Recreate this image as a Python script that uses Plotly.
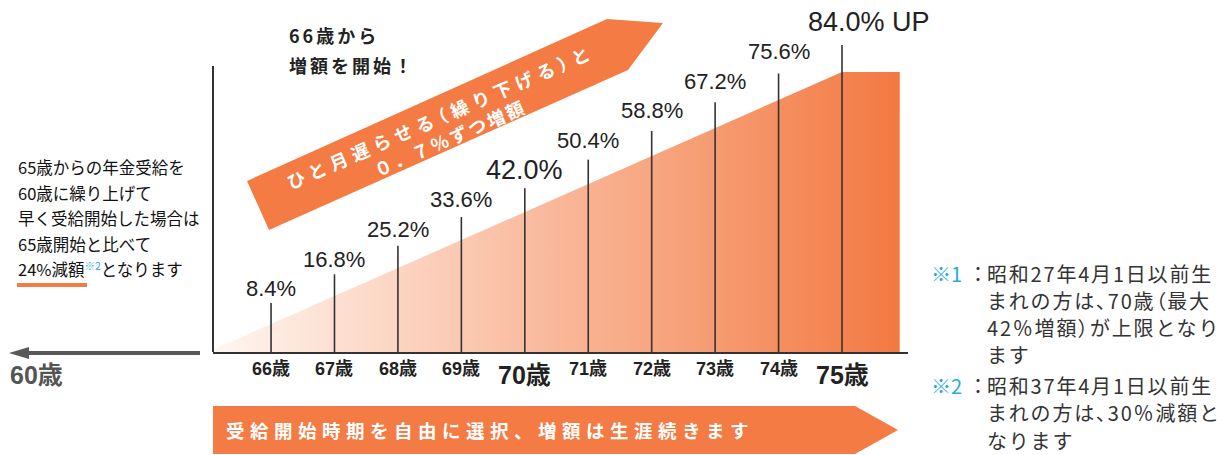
import plotly.graph_objects as go

# ---------------- data ----------------
ages = [65, 66, 67, 68, 69, 70, 71, 72, 73, 74, 75]
increase_pct = [0.0, 8.4, 16.8, 25.2, 33.6, 42.0, 50.4, 58.8, 67.2, 75.6, 84.0]
pct_labels = ["", "8.4%", "16.8%", "25.2%", "33.6%", "42.0%", "50.4%", "58.8%", "67.2%", "75.6%", "84.0% UP"]
age_labels = ["65歳", "66歳", "67歳", "68歳", "69歳", "70歳", "71歳", "72歳", "73歳", "74歳", "75歳"]
major_ages = [65, 70, 75]
plateau_end_age = 75.91

left_text = ["65歳からの年金受給を", "60歳に繰り上げて", "早く受給開始した場合は", "65歳開始と比べて"]
note1 = ["昭和27年4月1日以前生", "まれの方は、70歳（最大", "42％増額）が上限となり", "ます"]
note2 = ["昭和37年4月1日以前生", "まれの方は、30％減額と", "なります"]

# ---------------- styles ----------------
ORANGE = "#F47B43"
BLUE = "#29A9E0"
DARK = "#222222"
CJK = "Noto Sans CJK JP"
NUM = "Liberation Sans, Noto Sans CJK JP"

W, H = 1230, 455
OX, OY = 8, 8  # page body margin
L, R, T, B = 213, 908, 10, 352  # plot area in (screen) pixels
PW, PH = R - L, B - T


def P(x, y):
    return (x - L) / PW, (B - y) / PH


def path(points):
    s = ""
    for i, (x, y) in enumerate(points):
        px, py = P(x, y)
        s += ("M" if i == 0 else "L") + f"{px:.5f},{py:.5f} "
    return s + "Z"


annotations = []


def ann(text, x, y, size, color=DARK, family=CJK, xanchor="left", yanchor="middle", angle=0):
    px, py = P(x, y)
    annotations.append(dict(text=text, x=px, y=py, xref="paper", yref="paper", showarrow=False,
                            xanchor=xanchor, yanchor=yanchor, textangle=angle,
                            font=dict(size=size, color=color, family=family)))


def sp(text, px):
    return f'<span style="letter-spacing:{px}px">{text}</span>'


def note_line(text, px):
    # proportional punctuation, letter-spaced body text
    out, buf = "", ""
    for ch in text:
        if ch in "、（）":
            if buf:
                out += sp(buf, px)
                buf = ""
            out += f'<span style="letter-spacing:{px}px;font-feature-settings:\'palt\'">{ch}</span>'
        else:
            buf += ch
    if buf:
        out += sp(buf, px)
    return out


fig = go.Figure()

# gradient area (0.7% per month increase, capped at 84%)
fig.add_trace(go.Scatter(
    x=ages + [plateau_end_age, plateau_end_age],
    y=increase_pct + [increase_pct[-1], 0],
    mode="lines", fill="toself", line=dict(width=0),
    fillgradient=dict(type="horizontal", colorscale=[[0, "#FFF7F3"], [1, "#F37941"]]),
    hoverinfo="skip", showlegend=False))

# marker lines
lx, ly = [], []
for a, v in zip(ages[1:], increase_pct[1:]):
    lx += [a, a, None]
    ly += [0, v * 1.024 + 6.1, None]
fig.add_trace(go.Scatter(x=lx, y=ly, mode="lines", line=dict(color="#333333", width=1.6),
                         hoverinfo="skip", showlegend=False))

# percent labels
for a, v, t in zip(ages[1:], increase_pct[1:], pct_labels[1:]):
    big = a in major_ages
    d = dict(text=t, x=a, y=v * 1.06 + 10, xref="x", yref="y", showarrow=False,
             xanchor="center", yanchor="middle",
             font=dict(size=27 if big else 22, color=DARK, family="Liberation Sans"))
    if t.endswith("UP"):
        d.update(xanchor="left", xshift=-36)
    annotations.append(d)

# age tick labels
for a, t in zip(ages, age_labels):
    big = a in major_ages
    annotations.append(dict(text=f"<b>{t}</b>", x=a, y=0, xref="x", yref="y", showarrow=False,
                            xanchor="center", yanchor="middle", yshift=-23 if big else -17,
                            font=dict(size=25 if big else 18, color=DARK, family=NUM)))

shapes = []
# y axis line
shapes.append(dict(type="line", xref="paper", yref="paper", x0=0, x1=0, y0=0, y1=P(0, 66)[1],
                   line=dict(color="#333333", width=2)))
# diagonal banner arrow
shapes.append(dict(type="path", xref="paper", yref="paper", line=dict(width=0), fillcolor=ORANGE,
                   path=path([(247, 181), (607, 19), (663, 23), (628, 70), (269, 230)])))
# bottom banner arrow
shapes.append(dict(type="path", xref="paper", yref="paper", line=dict(width=0), fillcolor=ORANGE,
                   path=path([(213, 406), (855, 406), (898, 430), (855, 454), (213, 454)])))
# left gray arrow
x0, y0 = P(27, 353)
x1, _ = P(200, 353)
shapes.append(dict(type="line", xref="paper", yref="paper", x0=x0, x1=x1, y0=y0, y1=y0,
                   line=dict(color="#595959", width=4)))
shapes.append(dict(type="path", xref="paper", yref="paper", line=dict(width=0), fillcolor="#595959",
                   path=path([(9, 353), (29, 347), (29, 359)])))
# orange underline
ux0, uy = P(17, 285)
ux1, _ = P(87, 285)
shapes.append(dict(type="line", xref="paper", yref="paper", x0=ux0, x1=ux1, y0=uy, y1=uy,
                   line=dict(color=ORANGE, width=4)))

# banner texts
ann('<b>' + note_line("ひと月遅らせる（繰り下げる）と", 5.5) + '<br>' + sp("０．７％ずつ増額", 2.5) + '</b>',
    445, 126, 18, color="white", xanchor="center", angle=-23.5)
ann('<b>' + sp("受給開始時期を自由に選択、増額は生涯続きます", 5.5) + '</b>',
    224, 430, 18.5, color="white")

ann('<b>' + sp("66歳から", 3) + '</b>', 287, 35, 18)
ann('<b>' + sp("増額を開始！", 3) + '</b>', 287, 65, 18)

# left text
for i, t in enumerate(left_text):
    ann(t, 16, 167 + i * 25.5, 16.5, color="#111111")
ann('24%減額<span style="color:' + BLUE + ';font-size:15px"><sup>※2</sup></span>となります',
    16, 269, 16.5, color="#111111")

ann("<b>60歳</b>", 36, 375, 25, color="#555555", family=NUM, xanchor="center")

# notes
ann("※1", 929, 273, 20, color=BLUE)
ann("：", 966, 273, 20, color="#333333")
for i, t in enumerate(note1):
    ann(note_line(t, 1.8), 985, 273 + i * 27, 20, color="#333333")
ann("※2", 929, 385, 20, color=BLUE)
ann("：", 966, 385, 20, color="#333333")
for i, t in enumerate(note2):
    ann(note_line(t, 1.8), 985, 385 + i * 27.5, 20, color="#333333")

x_start = 65 + (L - 207.6) / 63.44
x_end = 65 + (R - 207.6) / 63.44
fig.update_layout(
    width=W, height=H, autosize=False,
    margin=dict(l=L - OX, r=W - (R - OX), t=T - OY, b=H - (B - OY), pad=0),
    paper_bgcolor="white", plot_bgcolor="white",
    xaxis=dict(range=[x_start, x_end], showgrid=False, zeroline=False, showticklabels=False,
               ticks="", showline=True, linecolor="#333333", linewidth=2),
    yaxis=dict(range=[0, PH / (280 / 84)], showgrid=False, zeroline=False, showticklabels=False,
               ticks="", showline=False),
    shapes=shapes, annotations=annotations, showlegend=False,
)

fig.write_html("out.html")
